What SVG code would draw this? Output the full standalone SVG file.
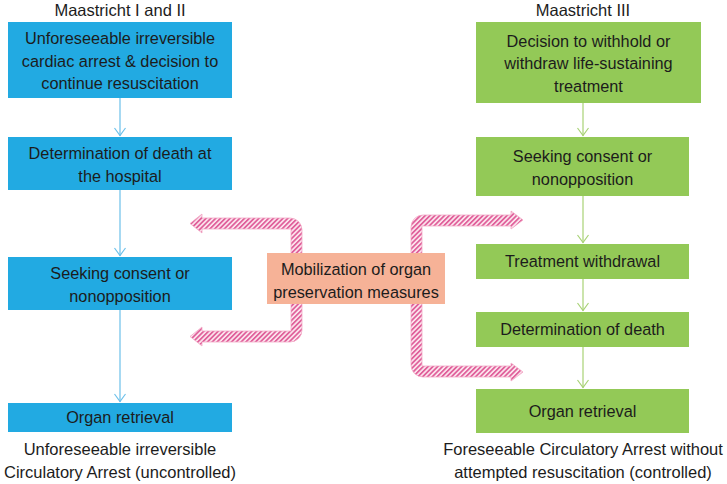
<svg xmlns="http://www.w3.org/2000/svg" width="727" height="484" viewBox="0 0 727 484">
<defs>
<style>
text{font-family:"Liberation Sans",Arial,Helvetica,sans-serif;fill:#1c1c1c;text-anchor:middle;}
.t{font-size:16.5px;}
.b{font-size:16.3px;}
.blue{fill:#22aae2;}
.green{fill:#93c957;}
.salmon{fill:#f6b297;}
.cb{stroke:#6cc0ea;stroke-width:1.2;fill:none;}
.cg{stroke:#a8d275;stroke-width:1.2;fill:none;}
.hatch{fill:url(#hatch);stroke:#f2a9c7;stroke-width:0.8;}
</style>
<pattern id="hatch" width="3.4" height="3.4" patternUnits="userSpaceOnUse" patternTransform="rotate(45)">
<rect width="3.4" height="3.4" fill="#fde9f0"/>
<rect width="1.8" height="3.4" fill="#e0609b"/>
</pattern>
</defs>
<rect width="727" height="484" fill="#ffffff"/>

<text class="t" x="120" y="16">Maastricht I and II</text>
<text class="t" x="583" y="16">Maastricht III</text>

<g id="connectors">
<line class="cb" x1="120" y1="98" x2="120" y2="136"/>
<line class="cb" x1="120" y1="190" x2="120" y2="256"/>
<line class="cb" x1="120" y1="310" x2="120" y2="402"/>
<line class="cg" x1="583" y1="103" x2="583" y2="136"/>
<line class="cg" x1="583" y1="196" x2="583" y2="243"/>
<line class="cg" x1="583" y1="279" x2="583" y2="311"/>
<line class="cg" x1="583" y1="347" x2="583" y2="388"/>
<polyline class="cb" points="114.5,128 120,135.5 125.5,128"/>
<polyline class="cb" points="114.5,248 120,255.5 125.5,248"/>
<polyline class="cb" points="114.5,394 120,401.5 125.5,394"/>
<polyline class="cg" points="577.5,128 583,135.5 588.5,128"/>
<polyline class="cg" points="577.5,235 583,242.5 588.5,235"/>
<polyline class="cg" points="577.5,303 583,310.5 588.5,303"/>
<polyline class="cg" points="577.5,380 583,387.5 588.5,380"/>
<path class="hatch" d="M302 254 V230 A12 12 0 0 0 290 218 H202 V214 L190 223.5 L202 233 V229 H291 V254 Z"/>
<path class="hatch" d="M291 303 V331 H202 V327 L190 336.5 L202 346 V342 H290 A12 12 0 0 0 302 330 V303 Z"/>
<path class="hatch" d="M411 254 V227 A12 12 0 0 1 423 215 H511 V211 L523 220 L511 229 V226 H422 V254 Z"/>
<path class="hatch" d="M411 303 V365 A12 12 0 0 0 423 377 H511 V381 L523 372 L511 363 V366 H422 V303 Z"/>
</g>

<g id="l1"><rect class="blue" x="8" y="22" width="224" height="76"/>
<text class="b" x="120" y="44">Unforeseeable irreversible</text>
<text class="b" x="120" y="66.5">cardiac arrest &amp; decision to</text>
<text class="b" x="120" y="89">continue resuscitation</text></g>
<g id="l2"><rect class="blue" x="8" y="137" width="224" height="53"/>
<text class="b" x="120" y="159">Determination of death at</text>
<text class="b" x="120" y="181.5">the hospital</text></g>
<g id="l3"><rect class="blue" x="8" y="257" width="224" height="53"/>
<text class="b" x="120" y="279">Seeking consent or</text>
<text class="b" x="120" y="301.5">nonopposition</text></g>
<g id="l4"><rect class="blue" x="8" y="403" width="224" height="29"/>
<text class="b" x="120" y="423">Organ retrieval</text></g>
<text class="t" x="120" y="455">Unforeseeable irreversible</text>
<text class="t" x="120" y="478">Circulatory Arrest (uncontrolled)</text>

<g id="mob"><rect class="salmon" x="267" y="253" width="178" height="51"/>
<text class="b" x="356" y="275">Mobilization of organ</text>
<text class="b" x="356" y="298">preservation measures</text></g>

<g id="r1"><rect class="green" x="476" y="22" width="225" height="81"/>
<text class="b" x="588.5" y="46.5">Decision to withhold or</text>
<text class="b" x="588.5" y="69">withdraw life-sustaining</text>
<text class="b" x="588.5" y="91.5">treatment</text></g>
<g id="r2"><rect class="green" x="476" y="137" width="213" height="59"/>
<text class="b" x="582.5" y="161.5">Seeking consent or</text>
<text class="b" x="582.5" y="184.5">nonopposition</text></g>
<g id="r3"><rect class="green" x="476" y="244" width="213" height="35"/>
<text class="b" x="582.5" y="267">Treatment withdrawal</text></g>
<g id="r4"><rect class="green" x="476" y="312" width="213" height="35"/>
<text class="b" x="582.5" y="335">Determination of death</text></g>
<g id="r5"><rect class="green" x="476" y="389" width="213" height="44"/>
<text class="b" x="582.5" y="416.5">Organ retrieval</text></g>
<text class="t" x="583" y="455">Foreseeable Circulatory Arrest without</text>
<text class="t" x="583" y="478">attempted resuscitation (controlled)</text>
</svg>
